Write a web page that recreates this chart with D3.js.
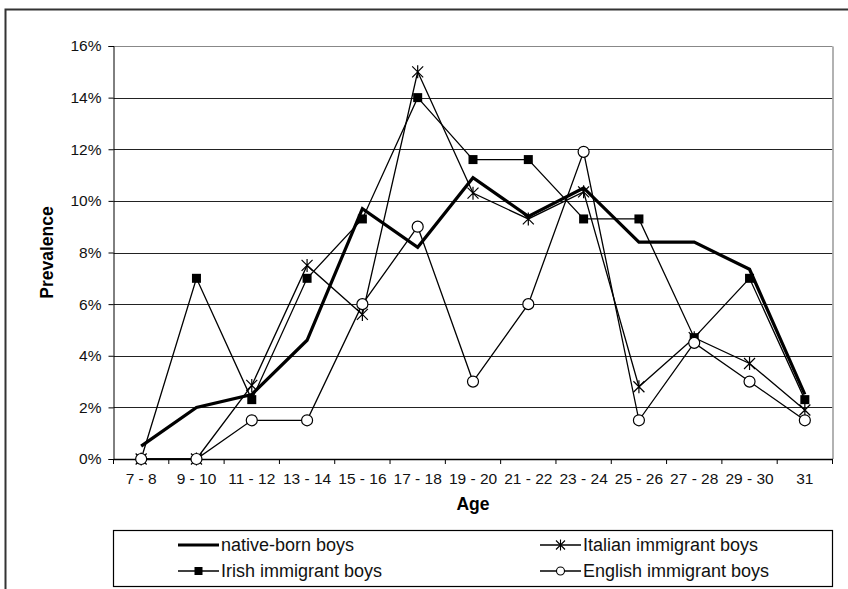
<!DOCTYPE html>
<html>
<head>
<meta charset="utf-8">
<script src="https://cdn.jsdelivr.net/npm/d3@7/dist/d3.min.js"></script>
<style>
  html, body { margin: 0; padding: 0; background: #fff; }
  svg { display: block; font-family: "Liberation Sans", Arial, sans-serif; }
</style>
</head>
<body>
<svg id="chart" width="848" height="589"></svg>
<script>
const categories = ["7 - 8","9 - 10","11 - 12","13 - 14","15 - 16","17 - 18","19 - 20","21 - 22","23 - 24","25 - 26","27 - 28","29 - 30","31"];
const yTicks = [0, 2, 4, 6, 8, 10, 12, 14, 16];
const nativeBorn = [0.5, 2.0, 2.5, 4.6, 9.7, 8.2, 10.9, 9.4, 10.5, 8.4, 8.4, 7.35, 2.5];
const italian    = [0, 0, 2.85, 7.5, 5.6, 15.0, 10.3, 9.3, 10.35, 2.8, 4.7, 3.7, 1.9];
const irish      = [0, 7.0, 2.3, 7.0, 9.3, 14.0, 11.6, 11.6, 9.3, 9.3, 4.7, 7.0, 2.3];
const english    = [0, 0, 1.5, 1.5, 6.0, 9.0, 3.0, 6.0, 11.9, 1.5, 4.5, 3.0, 1.5];
const seriesNames = ["native-born boys", "Italian immigrant boys", "Irish immigrant boys", "English immigrant boys"];

const svg = d3.select("#chart");
const L = 113.5, R = 832.5, T = 46, B = 459;
const FONT = "Liberation Sans, Arial, sans-serif";

const x = d3.scaleBand().domain(categories).range([L, R]);
const y = d3.scaleLinear().domain([0, 16]).range([B, T]);

// outer frame
svg.append("path").attr("d", `M5.5,600 L5.5,9.5 L860,9.5`)
  .attr("fill", "none").attr("stroke", "#333").attr("stroke-width", 2);

// gridlines
svg.append("g").selectAll("line").data(yTicks.filter(d => d > 0)).join("line")
  .attr("x1", L).attr("x2", R)
  .attr("y1", d => Math.round(y(d)) + 0.5).attr("y2", d => Math.round(y(d)) + 0.5)
  .attr("stroke", d => d === 16 ? "#888" : "#222").attr("stroke-width", 1);

// right border of plot area
svg.append("line").attr("x1", R + 0.5).attr("x2", R + 0.5).attr("y1", T + 0.5).attr("y2", B)
  .attr("stroke", "#999").attr("stroke-width", 1.5);

// y axis
const yAxis = d3.axisLeft(y).tickValues(yTicks).tickFormat(d => d + "%").tickSize(5).tickPadding(7);
const gy = svg.append("g").attr("transform", `translate(${L},0)`).call(yAxis);
gy.attr("font-size", null).attr("font-family", null);
gy.select(".domain").attr("stroke", "#000");
gy.selectAll(".tick line").attr("stroke", "#000");
gy.selectAll("text").attr("font-size", 15.5).attr("fill", "#111").attr("font-family", FONT);

// x axis
const xAxis = d3.axisBottom(x).tickSize(0).tickPadding(14);
const gx = svg.append("g").attr("transform", `translate(0,${B})`).call(xAxis);
gx.attr("font-size", null).attr("font-family", null);
gx.select(".domain").attr("stroke", "#000").attr("stroke-width", 1.5);
gx.selectAll("text").attr("font-size", 15.5).attr("fill", "#111").attr("font-family", FONT);
// tick marks between categories
const bounds = categories.map(c => x(c)).concat([x(categories[categories.length - 1]) + x.bandwidth()]);
svg.append("g").selectAll("line").data(bounds).join("line")
  .attr("x1", d => d).attr("x2", d => d).attr("y1", B).attr("y2", B + 5)
  .attr("stroke", "#000").attr("stroke-width", 1);

// axis titles
svg.append("text").attr("x", (L + R) / 2).attr("y", 510).attr("text-anchor", "middle")
  .attr("font-size", 17.5).attr("font-weight", "bold").text("Age");
svg.append("text").attr("transform", `translate(53,${(T + B) / 2}) rotate(-90)`)
  .attr("text-anchor", "middle").attr("font-size", 17.5).attr("font-weight", "bold").text("Prevalence");

const cx = c => x(c) + x.bandwidth() / 2;
const line = d3.line().x(d => cx(d.c)).y(d => y(d.v));
const toPts = arr => arr.map((v, i) => ({ c: categories[i], v }));

function drawMarker(g, type, px, py) {
  if (type === "square") {
    g.append("rect").attr("x", px - 4.5).attr("y", py - 4.5).attr("width", 9).attr("height", 9).attr("fill", "#000");
  } else if (type === "circle") {
    g.append("circle").attr("cx", px).attr("cy", py).attr("r", 5.5).attr("fill", "#fff").attr("stroke", "#000").attr("stroke-width", 1.2);
  } else if (type === "star") {
    const s = 5.5;
    g.append("path").attr("d", `M${px - s},${py - s}L${px + s},${py + s}M${px - s},${py + s}L${px + s},${py - s}M${px},${py - s - 1}L${px},${py + s + 1}`)
      .attr("stroke", "#000").attr("stroke-width", 1.2).attr("fill", "none");
  }
}

const series = [
  { name: seriesNames[2], data: irish, width: 1.3, marker: "square" },
  { name: seriesNames[1], data: italian, width: 1.3, marker: "star" },
  { name: seriesNames[3], data: english, width: 1.3, marker: "circle" },
  { name: seriesNames[0], data: nativeBorn, width: 3.2, marker: null }
];

series.forEach(s => {
  const g = svg.append("g");
  g.append("path").datum(toPts(s.data)).attr("d", line)
    .attr("fill", "none").attr("stroke", "#000").attr("stroke-width", s.width).attr("stroke-linejoin", "miter");
  if (s.marker) toPts(s.data).forEach(d => drawMarker(g, s.marker, cx(d.c), y(d.v)));
});

// legend
svg.append("rect").attr("x", 113.5).attr("y", 530.5).attr("width", 719).attr("height", 56)
  .attr("fill", "#fff").attr("stroke", "#000").attr("stroke-width", 1.2);
const legendItems = [
  { name: seriesNames[0], width: 3, marker: null, lx: 178, ly: 545 },
  { name: seriesNames[1], width: 1.3, marker: "star", lx: 540, ly: 545 },
  { name: seriesNames[2], width: 1.3, marker: "square", lx: 178, ly: 571 },
  { name: seriesNames[3], width: 1.3, marker: "circle", lx: 540, ly: 571 }
];
legendItems.forEach(it => {
  const g = svg.append("g");
  const w = 41;
  g.append("line").attr("x1", it.lx).attr("x2", it.lx + w).attr("y1", it.ly).attr("y2", it.ly)
    .attr("stroke", "#000").attr("stroke-width", it.width);
  if (it.marker === "square") {
    g.append("rect").attr("x", it.lx + w / 2 - 4).attr("y", it.ly - 4).attr("width", 8).attr("height", 8).attr("fill", "#000");
  } else if (it.marker === "circle") {
    g.append("circle").attr("cx", it.lx + w / 2).attr("cy", it.ly).attr("r", 4).attr("fill", "#fff").attr("stroke", "#000").attr("stroke-width", 1.1);
  } else if (it.marker === "star") {
    const px = it.lx + w / 2, py = it.ly, s = 4.5;
    g.append("path").attr("d", `M${px - s},${py - s}L${px + s},${py + s}M${px - s},${py + s}L${px + s},${py - s}M${px},${py - s - 1}L${px},${py + s + 1}`)
      .attr("stroke", "#000").attr("stroke-width", 1.1);
  }
  g.append("text").attr("x", it.lx + w + 2).attr("y", it.ly).attr("dy", "0.35em")
    .attr("font-size", 18).attr("fill", "#111").text(it.name);
});
</script>
</body>
</html>
